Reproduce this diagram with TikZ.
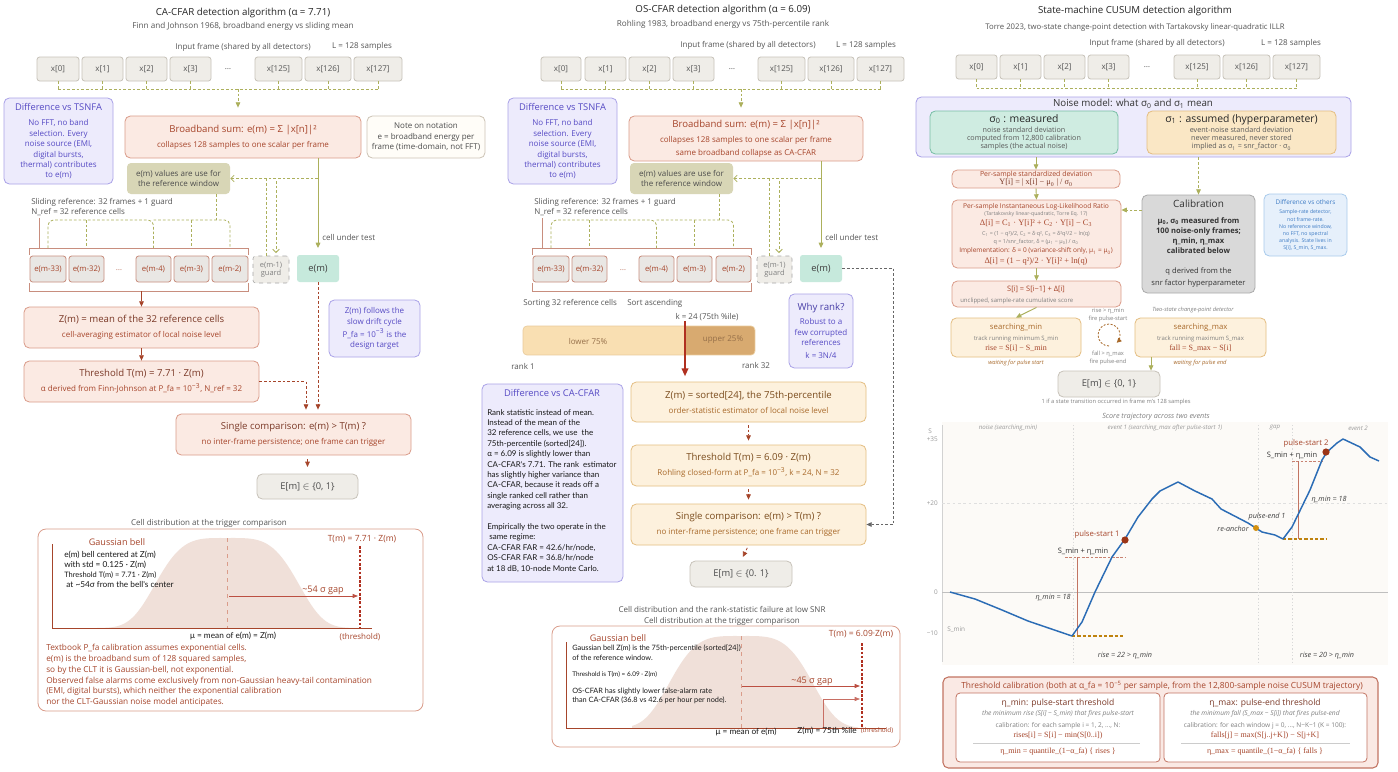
\documentclass[tikz,border=0pt]{standalone}
\usepackage{fontspec}
\setmainfont{Open Sans}
\newfontfamily\lato{Lato}
\newfontfamily\serf{Liberation Serif}
\usepackage{tikz}
\usetikzlibrary{arrows.meta}
\usepackage{xcolor}

\definecolor{xfill}{RGB}{239,237,232}
\definecolor{xline}{RGB}{200,195,186}
\definecolor{inkgray}{RGB}{85,85,85}
\definecolor{olv}{RGB}{172,176,92}
\definecolor{lavfill}{RGB}{237,235,252}
\definecolor{lavline}{RGB}{170,162,232}
\definecolor{lavtext}{RGB}{86,74,196}
\definecolor{redfill}{RGB}{251,234,227}
\definecolor{redline}{RGB}{218,156,138}
\definecolor{redtext}{RGB}{166,69,43}
\definecolor{reddark}{RGB}{122,56,38}
\definecolor{notefill}{RGB}{255,253,248}
\definecolor{noteline}{RGB}{205,196,182}
\definecolor{olvfill}{RGB}{216,214,182}
\definecolor{mint}{RGB}{198,233,220}
\definecolor{mintline}{RGB}{120,190,165}
\definecolor{cellfill}{RGB}{233,231,228}
\definecolor{cellline}{RGB}{200,142,126}
\definecolor{pchfill}{RGB}{253,241,221}
\definecolor{pchline}{RGB}{228,190,130}
\definecolor{pchtext}{RGB}{122,75,28}
\definecolor{pchsub}{RGB}{168,105,42}
\definecolor{barlo}{RGB}{249,223,178}
\definecolor{barhi}{RGB}{216,170,112}
\definecolor{bellfill}{RGB}{240,224,217}
\definecolor{calfill}{RGB}{217,217,217}
\definecolor{calline}{RGB}{170,170,170}
\definecolor{bluefill}{RGB}{230,240,251}
\definecolor{blueline}{RGB}{169,203,236}
\definecolor{bluetext}{RGB}{61,123,196}
\definecolor{curve}{RGB}{43,108,181}
\definecolor{dotred}{RGB}{155,53,23}
\definecolor{dotorg}{RGB}{212,144,15}
\definecolor{plotbg}{RGB}{252,250,247}
\definecolor{arrred}{RGB}{176,48,32}
\definecolor{thrfill}{RGB}{250,233,228}
\definecolor{thrline}{RGB}{194,116,98}

\newcommand{\fz}[2]{\fontsize{#1}{#2}\selectfont}
\newcommand{\bx}[7]{\node[#1,minimum width={(#5-#3)*0.75pt},minimum height={(#6-#4)*0.75pt}] (#2) at ({(#3+#5)/2},{(#4+#6)/2}) {#7};}

\begin{document}
\begin{tikzpicture}[x=0.75pt,y=0.75pt,yscale=-1,
  lbl/.style={inner sep=0pt,text=inkgray,font=\fz{6}{7.8}},
  xcell/.style={draw=xline,line width=0.6pt,fill=xfill,rounded corners=2pt,inner sep=0pt,text=inkgray,font=\fz{6}{7.8}},
  refcell/.style={draw=cellline,line width=0.6pt,fill=cellfill,rounded corners=2pt,inner sep=0pt,text=redtext,font=\fz{5.8}{7}},
  guardbox/.style={draw=gray!70,dashed,fill=xfill,rounded corners=2pt,inner sep=0pt,text=gray,align=center,font=\fz{5.6}{6.4}},
  mintbox/.style={fill=mint,rounded corners=2pt,inner sep=0pt,text=black!75,font=\fz{7}{8}},
  lavbox/.style={draw=lavline,line width=0.6pt,fill=lavfill,rounded corners=4pt,inner sep=0pt,text=lavtext,align=center,font=\fz{6}{7.8}},
  redbox/.style={draw=redline,line width=0.6pt,fill=redfill,rounded corners=4pt,inner sep=0pt,text=redtext,align=center,font=\fz{6}{8}},
  pchbox/.style={draw=pchline,line width=0.6pt,fill=pchfill,rounded corners=4pt,inner sep=0pt,text=pchsub,align=center,font=\fz{6}{8}},
  notebox/.style={draw=noteline,line width=0.6pt,fill=notefill,rounded corners=4pt,inner sep=0pt,text=black!70,align=center,font=\fz{6}{7.8}},
  olvbox/.style={fill=olvfill,rounded corners=3pt,inner sep=0pt,text=black!70,align=center,font=\fz{6}{8}},
  endbox/.style={draw=xline,line width=0.6pt,fill=xfill,rounded corners=4pt,inner sep=0pt,text=black!70,font=\fz{7}{8}},
  olvdash/.style={draw=olv,line width=0.6pt,dash pattern=on 2pt off 1.5pt},
  olvline/.style={draw=olv,line width=0.7pt},
  tri/.style={-{Triangle[length=4pt,width=3.5pt]}},
  barb/.style={-{Straight Barb[length=2.5pt,width=5pt]}},
  redarr/.style={draw=redtext,line width=0.6pt,-{Triangle[length=4pt,width=3.5pt]}},
  reddash/.style={redarr,dash pattern=on 2pt off 1.5pt},
  panel/.style={draw=redline,line width=0.6pt,fill=white,rounded corners=6pt},
]
\fill[white] (0,0) rectangle (1398,771);
\useasboundingbox (0,0) rectangle (1398,771);
\coordinate (refbrk) at (0,220);
\coordinate (reftop) at (0,248);

%%%%%%%%%%%%%%%%%%%%%%%%%%%%%%%%%%%%%%%%%% CA-CFAR column
% Text Node
\node[lbl,font=\fz{7.3}{9},text=black!85] (catitle) at (243,13) {CA-CFAR detection algorithm (α = 7.71)};
\node[lbl,font=\fz{6.1}{8}] (casub) at (243,26) {Finn and Johnson 1968, broadband energy vs sliding mean};
\node[lbl] (cain) at (243,47) {Input frame (shared by all detectors)};
\node[lbl] (calen) at (362,46) {L = 128 samples};

%Input samples
\bx{xcell}{cax0}{37}{57}{79}{81}{x[0]}
\bx{xcell}{cax1}{82}{57}{123}{81}{x[1]}
\bx{xcell}{cax2}{126}{57}{167}{81}{x[2]}
\bx{xcell}{cax3}{170}{57}{211}{81}{x[3]}
\node[lbl] (caxdots) at (228,69) {…};
\bx{xcell}{cax125}{255}{57}{302}{81}{x[125]}
\bx{xcell}{cax126}{305}{57}{351}{81}{x[126]}
\bx{xcell}{cax127}{354}{57}{402}{81}{x[127]}

%Boxes
\bx{lavbox}{catsn}{4}{98}{113}{184}{\fz{7}{9}Difference vs TSNFA\\[4pt]No FFT, no band\\selection. Every\\noise source (EMI,\\digital bursts,\\thermal) contributes\\to e(m)}
\bx{redbox}{cabb}{125}{116}{361}{158}{\fz{7.2}{9}Broadband sum: e(m) = Σ |x[n]|²\\[3.2pt]collapses 128 samples to one scalar per frame}
\bx{notebox}{canote}{367}{116}{485}{158}{Note on notation\\e = broadband energy per\\frame (time-domain, not FFT)}
\bx{olvbox}{caval}{127}{163}{230}{194}{e(m) values are use for\\the reference window}
\node[lbl,anchor=west] (caslide) at (31,202) {Sliding reference: 32 frames + 1 guard};
\node[lbl,anchor=west] (canref) at (31,212) {N\_ref = 32 reference cells};
\node[lbl,anchor=west] (cacut) at (322,237) {cell under test};

\bx{refcell}{cam33}{30}{256}{66}{282}{e(m-33)}
\bx{refcell}{cam32}{69}{256}{104}{282}{e(m-32)}
\node[lbl,text=redtext!70] (camdots) at (119,270) {…};
\bx{refcell}{cam4}{136}{256}{171}{282}{e(m-4)}
\bx{refcell}{cam3}{174}{256}{209}{282}{e(m-3)}
\bx{refcell}{cam2}{212}{256}{248}{282}{e(m-2)}
\bx{guardbox}{caguard}{253}{256}{289}{283}{e(m-1)\\guard}
\bx{mintbox}{caem}{297}{255}{339}{282}{e(m)}

\bx{redbox}{caz}{24}{307}{259}{348}{\fz{7.2}{9}\color{reddark}Z(m) = mean of the 32 reference cells\\[3.2pt]cell-averaging estimator of local noise level}
\bx{redbox}{cathr}{24}{361}{259}{402}{\fz{7.2}{9}\color{reddark}Threshold T(m) = 7.71 · Z(m)\\[3.2pt]α derived from Finn-Johnson at P\_fa = 10\textsuperscript{−3}, N\_ref = 32}
\bx{lavbox}{cadrift}{329}{300}{420}{357}{Z(m) follows the\\slow drift cycle\\[2pt]P\_fa = 10\textsuperscript{−3} is the\\design target}
\bx{redbox}{casgl}{176}{414}{411}{455}{\fz{7.2}{9}\color{reddark}Single comparison: e(m) > T(m) ?\\[3.2pt]no inter-frame persistence; one frame can trigger}
\bx{endbox}{caE}{257}{474}{358}{499}{E[m] $\in$ \{0, 1\}}

%Connectors
\coordinate (cabus) at (238,89);
\foreach \c in {cax0,cax1,cax2,cax3,cax125,cax126,cax127} \draw[olvdash] (\c.south) -- (\c.south |- cabus);
\draw[olvdash] (cax0.south |- cabus) -- (cax127.south |- cabus);
\draw[olvdash,tri,shorten >=6pt] (cabus) -- (cabus |- cabb.north);
\draw[olvline,tri,shorten >=5pt] (caem.north |- cabb.south) -- (caem.north);
\draw[olvdash,barb] (caem.north |- caval.east) -- (caval.east);
\coordinate (cagl) at (266,0);
\coordinate (cagr) at (276,0);
\draw[olvdash] (cagl |- caval.east) -- (cagl |- caguard.north);
\draw[olvdash,barb,shorten >=2pt] (cagr |- 0,181) -- (cagr |- caguard.north);
\coordinate (cavx) at (216,0);
\draw[olvdash] (cavx |- caval.south) -- (cavx |- refbrk);
\draw[olvdash,rounded corners=4pt] (cam33.north |- reftop) |- (cam4.north |- refbrk) -- (cam4.north |- reftop);
\draw[olvdash,rounded corners=4pt] (cam4.north |- refbrk) -| (cam2.north |- reftop);
\foreach \c in {cam32,cam3} \draw[olvdash] (\c.north |- refbrk) -- (\c.north |- reftop);
%Reference bracket
\draw[cellline,line width=0.6pt] (29,255) |- (248,248) -- (248,255);
\draw[cellline,line width=0.6pt] (29,283) |- (248,291) -- (248,283);
\draw[cellline,line width=0.6pt] (39,218) -- (39,248);
\draw[redarr] (caz.north |- 0,291) -- (caz.north);
\draw[redarr] (caz.south) -- (cathr.north);
\coordinate (cacmp) at (306,0);
\draw[reddash,shorten >=3pt] (cathr.east) -| (cacmp |- casgl.north);
\draw[reddash,shorten >=3pt] (caem.south) -- (caem.south |- casgl.north);
\draw[redarr,shorten <=3pt,shorten >=5pt] (casgl.south -| caE.north) -- (caE.north);

%Bottom panel: cell distribution
\node[lbl] (cadisttitle) at (209,523) {Cell distribution at the trigger comparison};
\draw[panel] (38,529) rectangle (423,711);
\fill[bellfill] (97,628) -- plot[domain=97:358,samples=90] (\x,{628-90*exp(0-((((\x-227)/78)^2)^2))}) -- (358,628) -- cycle;
\draw[redline,dashed] (227,538) -- (227,628);
\draw[redtext,line width=0.6pt] (52,544) -- (52,628) -- (372,628);
\draw[arrred,line width=1pt,dash pattern=on 2pt off 1.2pt] (360,546) -- (360,628);
\draw[arrred!85,line width=0.6pt,-{Triangle[length=4pt,width=3pt]}] (229,596) -- (358,596);
\node[lbl,text=redtext,font=\fz{6.8}{8}] (cagap) at (323,590) {\textasciitilde54 σ gap};
\node[lbl,text=redtext,font=\fz{6.4}{8}] (cathrlbl) at (362,539) {T(m) = 7.71 · Z(m)};
\node[lbl,text=redtext,font=\fz{6.8}{8}] (cabell) at (117,542) {Gaussian bell};
\node[lbl,anchor=north west,align=left,text=black!90,font=\lato\fz{6.2}{7.5}] (cabellnote) at (64,551) {e(m) bell centered at Z(m)\\with std = 0.125 · Z(m)\\\fz{5.6}{7}Threshold T(m) = 7.71 · Z(m)\\\ at \textasciitilde54σ from the bell's center};
\node[lbl,text=black!90,font=\lato\fz{6.2}{7.5}] (camu) at (233,636) {μ = mean of e(m) = Z(m)};
\node[lbl,text=redtext,font=\fz{6}{7.5}] (cathrs) at (360,637) {(threshold)};
\node[lbl,anchor=north west,align=left,text=redtext,font=\fz{6.2}{8.1}] (catextbook) at (46,644) {Textbook P\_fa calibration assumes exponential cells.\\e(m) is the broadband sum of 128 squared samples,\\so by the CLT it is Gaussian-bell, not exponential.\\Observed false alarms come exclusively from non-Gaussian heavy-tail contamination\\(EMI, digital bursts), which neither the exponential calibration\\nor the CLT-Gaussian noise model anticipates.};

%%%%%%%%%%%%%%%%%%%%%%%%%%%%%%%%%%%%%%%%%% OS-CFAR column
\node[lbl,font=\fz{7.3}{9},text=black!85] (ostitle) at (723,10) {OS-CFAR detection algorithm (α = 6.09)};
\node[lbl,font=\fz{6.1}{8}] (ossub) at (723,24) {Rohling 1983, broadband energy vs 75th-percentile rank};
\node[lbl] (osin) at (748,45) {Input frame (shared by all detectors)};
\node[lbl] (oslen) at (866,45) {L = 128 samples};

\bx{xcell}{osx0}{541}{57}{581}{81}{x[0]}
\bx{xcell}{osx1}{585}{57}{626}{81}{x[1]}
\bx{xcell}{osx2}{629}{57}{670}{81}{x[2]}
\bx{xcell}{osx3}{673}{57}{714}{81}{x[3]}
\node[lbl] (osxdots) at (732,69) {…};
\bx{xcell}{osx125}{758}{57}{805}{81}{x[125]}
\bx{xcell}{osx126}{808}{57}{854}{81}{x[126]}
\bx{xcell}{osx127}{857}{57}{904}{81}{x[127]}

\bx{lavbox}{ostsn}{508}{98}{617}{184}{\fz{7}{9}Difference vs TSNFA\\[4pt]No FFT, no band\\selection. Every\\noise source (EMI,\\digital bursts,\\thermal) contributes\\to e(m)}
\bx{redbox}{osbb}{629}{116}{863}{161}{\fz{7.2}{9}Broadband sum: e(m) = Σ |x[n]|²\\[3.2pt]collapses 128 samples to one scalar per frame\\[1.7pt]same broadband collapse as CA-CFAR}
\bx{olvbox}{osval}{630}{163}{733}{194}{e(m) values are use for\\the reference window}
\node[lbl,anchor=west] (osslide) at (534,202) {Sliding reference: 32 frames + 1 guard};
\node[lbl,anchor=west] (osnref) at (534,212) {N\_ref = 32 reference cells};
\node[lbl,anchor=west] (oscut) at (825,237) {cell under test};

\bx{refcell}{osm33}{533}{256}{569}{282}{e(m-33)}
\bx{refcell}{osm32}{572}{256}{607}{282}{e(m-32)}
\node[lbl,text=redtext!70] (osmdots) at (623,270) {…};
\bx{refcell}{osm4}{639}{256}{674}{282}{e(m-4)}
\bx{refcell}{osm3}{677}{256}{712}{282}{e(m-3)}
\bx{refcell}{osm2}{716}{256}{751}{282}{e(m-2)}
\bx{guardbox}{osguard}{757}{256}{792}{283}{e(m-1)\\guard}
\bx{mintbox}{osem}{800}{255}{842}{282}{e(m)}

\node[lbl,anchor=west] (ossort) at (523,303) {Sorting 32 reference cells};
\node[lbl,anchor=west] (osasc) at (627,303) {Sort ascending};
\node[lbl] (osk) at (707,317) {k = 24 (75th \%ile)};
%Rank bar
\begin{scope}
\clip[rounded corners=3pt] (523,326) rectangle (755,355);
\fill[barlo] (523,326) rectangle (684,355);
\fill[barhi] (684,326) rectangle (755,355);
\end{scope}
\draw[pchline!80,line width=0.5pt,rounded corners=3pt] (523,326) rectangle (755,355);
\node[lbl,text=pchtext!80] (oslow) at (588,341) {lower 75\%};
\node[lbl,text=pchtext!80] (osup) at (723,340) {upper 25\%};
\node[lbl] (osr1) at (523,366) {rank 1};
\node[lbl] (osr32) at (756,365) {rank 32};

\bx{lavbox}{oswhy}{789}{294}{853}{368}{\fz{7.3}{9}\color{lavtext!85!black}Why rank?\\[3pt]Robust to a\\few corrupted\\references\\[2pt]k = 3N/4}
\bx{lavbox}{osdiff}{482}{384}{623}{582}{}
\node[lbl,text=lavtext,font=\fz{7}{9}] (osdifft) at (552,393) {Difference vs CA-CFAR};
\node[lbl,anchor=north west,align=left,text=black!90,font=\lato\fz{6}{7.8}] (osdiffb) at (487,409) {Rank statistic instead of mean.\\Instead of the mean of the\\32 reference cells, we use~ the\\75th-percentile (sorted[24]).\\α = 6.09 is slightly lower than\\CA-CFAR's 7.71. The rank~ estimator\\has slightly higher variance than\\CA-CFAR, because it reads off a\\single ranked cell rather than\\averaging across all 32.\\[7.8pt]Empirically the two operate in the\\\ same regime:\\CA-CFAR FAR = 42.6/hr/node,\\OS-CFAR FAR = 36.8/hr/node\\at 18 dB, 10-node Monte Carlo.};

\bx{pchbox}{osz}{631}{382}{866}{422}{\fz{7.2}{9}\color{pchtext}Z(m) = sorted[24], the 75th-percentile\\[3.2pt]order-statistic estimator of local noise level}
\bx{pchbox}{osthr}{631}{445}{866}{486}{\fz{7.2}{9}\color{pchtext}Threshold T(m) = 6.09 · Z(m)\\[3.2pt]Rohling closed-form at P\_fa = 10\textsuperscript{−3}, k = 24, N = 32}
\bx{pchbox}{ossgl}{631}{504}{866}{545}{\fz{7.2}{9}\color{pchtext}Single comparison: e(m) > T(m) ?\\[3.2pt]no inter-frame persistence; one frame can trigger}
\bx{endbox}{osE}{690}{561}{792}{587}{E[m] $\in$ \{0. 1\}}

%Connectors
\coordinate (osbus) at (741,89);
\foreach \c in {osx0,osx1,osx2,osx3,osx125,osx126,osx127} \draw[olvdash] (\c.south) -- (\c.south |- osbus);
\draw[olvdash] (osx0.south |- osbus) -- (osx127.south |- osbus);
\draw[olvdash,tri,shorten >=6pt] (osbus) -- (osbus |- osbb.north);
\draw[olvline,tri,shorten >=5pt] (osem.north |- osbb.south) -- (osem.north);
\draw[olvdash,barb] (osem.north |- osval.east) -- (osval.east);
\coordinate (osgl) at (769,0);
\coordinate (osgr) at (779,0);
\draw[olvdash] (osgl |- osval.east) -- (osgl |- osguard.north);
\draw[olvdash,barb,shorten >=2pt] (osgr |- 0,181) -- (osgr |- osguard.north);
\coordinate (osvx) at (719,0);
\draw[olvdash] (osvx |- osval.south) -- (osvx |- refbrk);
\draw[olvdash,rounded corners=4pt] (osm33.north |- reftop) |- (osm4.north |- refbrk) -- (osm4.north |- reftop);
\draw[olvdash,rounded corners=4pt] (osm4.north |- refbrk) -| (osm2.north |- reftop);
\foreach \c in {osm32,osm3} \draw[olvdash] (\c.north |- refbrk) -- (\c.north |- reftop);
\draw[cellline,line width=0.6pt] (532,255) |- (751,248) -- (751,255);
\draw[cellline,line width=0.6pt] (532,283) |- (751,291) -- (751,283);
\draw[cellline,line width=0.6pt] (542,218) -- (542,248);
\coordinate (osrk) at (685,0);
\draw[arrred,line width=1.3pt,-{Triangle[length=6pt,width=5pt]},shorten >=4pt] (osrk |- osk.south) -- (osrk |- osz.north);
\draw[reddash,shorten <=2pt,shorten >=3pt] (osz.south) -- (osthr.north);
\draw[reddash,shorten <=2pt,shorten >=3pt] (osthr.south) -- (ossgl.north);
\draw[reddash,shorten <=2pt,shorten >=3pt] (ossgl.south) -- (osE.north);
\draw[gray!80!black,line width=0.6pt,dash pattern=on 2pt off 1.5pt,-{Triangle[length=4pt,width=3.5pt]}] (osem.east) -| ([xshift=20.25pt]ossgl.east) -- (ossgl.east);

%Bottom panel: rank statistic
\node[lbl] (osdist1) at (722,609) {Cell distribution and the rank-statistic failure at low SNR};
\node[lbl] (osdist2) at (722,621) {Cell distribution at the trigger comparison};
\draw[panel] (552,626) rectangle (900,747);
\fill[bellfill] (632,728) -- plot[domain=632:858,samples=90] (\x,{728-92*exp(0-((((\x-741)/78)^2)^2))}) -- (858,728) -- cycle;
\draw[redline,dashed] (741,636) -- (741,728);
\draw[redtext,line width=0.6pt] (566,642) -- (566,728) -- (886,728);
\draw[arrred,line width=1pt,dash pattern=on 2pt off 1.2pt] (862,643) -- (862,728);
\draw[arrred!85,line width=0.6pt,-{Triangle[length=4pt,width=3pt]}] (742,686) -- (860,686);
\draw[arrred!70,line width=0.5pt,-{Triangle[length=4pt,width=3pt]}] (823,728) -- (823,699) -- (860,699);
\node[lbl,text=redtext,font=\fz{6.8}{8}] (osgap) at (812,681) {\textasciitilde45 σ gap};
\node[lbl,text=redtext,font=\fz{6.4}{8}] (osthrlbl) at (861,634) {T(m) = 6.09·Z(m)};
\node[lbl,text=redtext,font=\fz{6.8}{8}] (osbell) at (618,638) {Gaussian bell};
\node[lbl,anchor=north west,align=left,text=black!90,font=\lato\fz{5.5}{6.8}] (osbn1) at (572,645) {Gaussian bell Z(m) is the 75th-percentile (sorted[24])\\of the reference window.};
\node[lbl,anchor=west,text=black!90,font=\lato\fz{4.8}{6}] (osbn2) at (572,674) {Threshold is T(m) = 6.09 · Z(m)};
\node[lbl,anchor=north west,align=left,text=black!90,font=\lato\fz{5.5}{6.8}] (osbn3) at (572,688) {OS-CFAR has slightly lower false-alarm rate\\than CA-CFAR (36.8 vs 42.6 per hour per node).};
\node[lbl,text=black!90,font=\lato\fz{6.2}{7.5}] (osmu) at (746,732) {μ = mean of e(m)};
\node[lbl,text=black!90,font=\lato\fz{6.2}{7.5}] (oszlbl) at (827,731) {Z(m) = 75th \%ile};
\node[lbl,text=redtext,font=\fz{4.8}{6}] (osthrs) at (877,731) {(threshold)};

%%%%%%%%%%%%%%%%%%%%%%%%%%%%%%%%%%%%%%%%%% CUSUM column
\node[lbl,font=\fz{7.3}{9},text=black!85] (rttitle) at (1135,11) {State-machine CUSUM detection algorithm};
\node[lbl,font=\fz{5.8}{7.5}] (rtsub) at (1135,27) {Torre 2023, two-state change-point detection with Tartakovsky linear-quadratic ILLR};
\node[lbl] (rtin) at (1157,43) {Input frame (shared by all detectors)};
\node[lbl] (rtlen) at (1291,43) {L = 128 samples};

\bx{xcell}{rtx0}{956}{55}{997}{79}{x[0]}
\bx{xcell}{rtx1}{1000}{55}{1041}{79}{x[1]}
\bx{xcell}{rtx2}{1044}{55}{1085}{79}{x[2]}
\bx{xcell}{rtx3}{1088}{55}{1129}{79}{x[3]}
\node[lbl] (rtxdots) at (1147,67) {…};
\bx{xcell}{rtx125}{1174}{55}{1220}{79}{x[125]}
\bx{xcell}{rtx126}{1223}{55}{1270}{79}{x[126]}
\bx{xcell}{rtx127}{1273}{55}{1320}{79}{x[127]}
\coordinate (rtbus) at (1132,88);
\foreach \c in {rtx0,rtx1,rtx2,rtx3,rtx125,rtx126,rtx127} \draw[olvdash] (\c.south) -- (\c.south |- rtbus);
\draw[olvdash] (rtx0.south |- rtbus) -- (rtx127.south |- rtbus);

%Noise model
\bx{lavbox}{rtnoise}{916}{97}{1351}{157}{}
\node[lbl,font=\fz{7.3}{9},text=black!80] (rtnoiset) at (1133,104) {Noise model: what σ\textsubscript{0} and σ\textsubscript{1} mean};
\bx{lavbox,draw=mintline,fill=mint!85,text=black!65,font=\fz{5.4}{6}}{rtsig0}{930}{111}{1118}{154}{\fz{7.8}{9}\color{black!85}σ\textsubscript{0} : measured\\[2pt]noise standard deviation\\computed from 12,800 calibration\\samples (the actual noise)}
\bx{lavbox,draw=pchline,fill=barlo!75,text=black!65,font=\fz{5.4}{6}}{rtsig1}{1147}{111}{1336}{154}{\fz{7.8}{9}\color{black!85}σ\textsubscript{1} : assumed (hyperparameter)\\[2pt]event-noise standard deviation\\never measured, never stored\\implied as σ\textsubscript{1} = snr\_factor · σ\textsubscript{0}}

\bx{redbox,font=\fz{5.2}{6.2}}{rtstd}{952}{170}{1120}{188}{Per-sample standardized deviation\\\serf\fz{6.2}{7}\color{reddark}Y[i] = | x[i] − μ\textsubscript{0} | / σ\textsubscript{0}}
\bx{redbox}{rtillr}{952}{200}{1121}{268}{}
\node[lbl,text=redtext,font=\fz{5}{6}] (rtil1) at (1036,207) {Per-sample Instantaneous Log-Likelihood Ratio};
\node[lbl,text=gray,font=\fz{3.9}{5}] (rtil2) at (1036,214) {(Tartakovsky linear-quadratic, Torre Eq. 17)};
\node[lbl,text=redtext,font=\serf\fz{6.3}{7}] (rtil3) at (1036,223) {Δ[i] = C\textsubscript{1} · Y[i]² + C\textsubscript{2} · Y[i] − C\textsubscript{3}};
\node[lbl,text=gray,font=\fz{4.1}{5}] (rtil4) at (1036,234) {C\textsubscript{1} = (1 − q²)/2, C\textsubscript{2} = δ·q², C\textsubscript{3} = δ²q²/2 − ln(q)};
\node[lbl,text=gray,font=\fz{4.1}{5}] (rtil5) at (1036,242) {q = 1/snr\_factor, δ = (μ\textsubscript{1} − μ\textsubscript{0}) / σ\textsubscript{0}};
\node[lbl,text=redtext,font=\fz{4.9}{6}] (rtil6) at (1036,251) {Implementation: δ = 0 (variance-shift only, μ\textsubscript{1} = μ\textsubscript{0})};
\node[lbl,text=redtext,font=\serf\fz{6.3}{7}] (rtil7) at (1036,261) {Δ[i] = (1 − q²)/2 · Y[i]² + ln(q)};

\bx{lavbox,draw=calline,fill=calfill,text=black!80,font=\fz{5.7}{7.6}}{rtcal}{1142}{195}{1255}{293}{\fz{7.5}{9}Calibration\\[4pt]\bfseries μ\textsubscript{0}, σ\textsubscript{0} measured from\\\bfseries 100 noise-only frames;\\\bfseries η\_min, η\_max\\\bfseries calibrated below\\[7.4pt]q derived from the\\[1.4pt]snr factor hyperparameter}
\bx{lavbox,draw=blueline,fill=bluefill,text=bluetext,font=\fz{3.9}{5.4}}{rtothers}{1264}{194}{1347}{256}{\fz{4.8}{6}Difference vs others\\[2pt]Sample-rate detector,\\not frame-rate.\\No reference window,\\no FFT, no spectral\\analysis. State lives in\\S[i], S\_min, S\_max.}

\bx{redbox}{rtS}{952}{281}{1121}{307}{}
\node[lbl,text=redtext,font=\fz{5.6}{7}] (rtS1) at (1036,289) {S[i] = S[i−1] + Δ[i]};
\node[lbl,anchor=west,text=gray,font=\fz{4.5}{6}] (rtS2) at (960,301) {unclipped, sample-rate cumulative score};

\bx{pchbox,font=\fz{4.5}{6},text=gray}{rtsmin}{951}{318}{1081}{357}{\fz{5.8}{7}\color{pchsub}searching\_min\\[2.5pt]track running minimum S\_min\\[1.5pt]\serf\fz{6}{7}\color{redtext}rise = S[i] − S\_min}
\bx{pchbox,font=\fz{4.5}{6},text=gray}{rtsmax}{1135}{318}{1266}{357}{\fz{5.8}{7}\color{pchsub}searching\_max\\[2.5pt]track running maximum S\_max\\[1.5pt]\serf\fz{6}{7}\color{redtext}fall = S\_max − S[i]}
\node[lbl,text=pchsub,font=\itshape\fz{4.3}{5}] (rtwmin) at (1016,363) {waiting for pulse start};
\node[lbl,text=pchsub,font=\itshape\fz{4.3}{5}] (rtwmax) at (1200,363) {waiting for pulse end};
\node[lbl,text=gray,font=\itshape\fz{4.3}{5}] (rttwo) at (1193,310) {Two-state change-point detector};
\node[lbl,align=center,text=gray,font=\fz{4.3}{5.4}] (rtrise) at (1108,315) {rise > η\_min\\fire pulse-start};
\node[lbl,align=center,text=gray,font=\fz{4.3}{5.4}] (rtfall) at (1108,358) {fall > η\_max\\fire pulse-end};
\draw[pchsub,line width=0.6pt,dash pattern=on 1.5pt off 1.2pt,-{Triangle[length=3.5pt,width=3.5pt]}] (1109,346) arc[start angle=90,end angle=405,radius=11];

\bx{endbox}{rtE}{1058}{371}{1160}{397}{E[m] $\in$ \{0, 1\}}
\node[lbl,text=gray,font=\fz{4.3}{5}] (rtEnote) at (1116,402) {1 if a state transition occurred in frame m's 128 samples};

%Connectors
\draw[olvline,tri] (rtstd.north |- rtnoise.south) -- (rtstd.north);
\draw[olvdash,tri] (rtcal.north |- rtnoise.south) -- (rtcal.north);
\draw[olvline,tri] (rtstd.south) -- (rtillr.north);
\draw[olvdash,tri] (rtcal.west |- 0,210) -- (rtillr.east |- 0,210);
\draw[olvline,tri] (rtillr.south) -- (rtS.north);
\draw[olvline,tri] (rtS.south) -- (rtsmin.north);
\coordinate (rtex) at (1151,0);
\draw[olvline,tri] (rtex |- rtsmax.south) -- (rtex |- rtE.north);

%Score trajectory plot
\node[lbl,text=gray,font=\itshape\fz{5.4}{7}] (rtplott) at (1156,417) {Score trajectory across two events};
\fill[plotbg] (942,422) rectangle (1388,665);
\draw[gray!35,line width=0.5pt] (942,425) -- (942,662);
\draw[gray!25,dash pattern=on 2pt off 2pt] (942,503) -- (1388,503);
\draw[gray!50,line width=0.6pt] (942,592) -- (1388,592);
\foreach \xx in {1073,1258,1292} \draw[gray!30,dash pattern=on 1pt off 1.5pt] (\xx,425) -- (\xx,662);
\node[lbl,text=gray!80,font=\fz{4.8}{6}] (rtys) at (930,431) {S};
\node[lbl,anchor=east,text=gray!80,font=\fz{4.8}{6}] (rty35) at (938,439) {+35};
\node[lbl,anchor=east,text=gray!80,font=\fz{4.8}{6}] (rty20) at (938,503) {+20};
\node[lbl,anchor=east,text=gray!80,font=\fz{4.8}{6}] (rty0) at (938,592) {0};
\node[lbl,anchor=east,text=gray!80,font=\fz{4.8}{6}] (rtym10) at (938,633) {−10};
\node[lbl,anchor=west,text=gray!80,font=\fz{4.8}{6}] (rtsminl) at (947,630) {S\_min};
\node[lbl,text=gray!80,font=\itshape\fz{4.6}{6}] (rtreg1) at (1008,428) {noise (searching\_min)};
\node[lbl,text=gray!80,font=\itshape\fz{4.6}{6}] (rtreg2) at (1165,428) {event 1 (searching\_max after pulse-start 1)};
\node[lbl,text=gray!80,font=\itshape\fz{4.6}{6}] (rtreg3) at (1275,428) {gap};
\node[lbl,text=gray!80,font=\itshape\fz{4.6}{6}] (rtreg4) at (1358,428) {event 2};

\draw[thrline!90,dash pattern=on 2pt off 1.2pt,line width=0.6pt] (1065,557) -- (1125,557);
\draw[thrline,line width=0.6pt] (1077,557) -- (1077,636);
\draw[dotorg!90!black,dash pattern=on 2.5pt off 1.5pt,line width=0.8pt] (1072,636) -- (1125,636);
\draw[thrline!90,dash pattern=on 2pt off 1.2pt,line width=0.6pt] (1292,461) -- (1323,461);
\draw[thrline,line width=0.6pt] (1298,461) -- (1298,539);
\draw[dotorg!90!black,dash pattern=on 2.5pt off 1.5pt,line width=0.8pt] (1283,539) -- (1327,539);

\draw[curve,line width=1.1pt,line join=round] plot coordinates {(950,592) (975,599) (1002,610) (1028,621) (1072,636) (1082,622) (1095,592) (1112,557) (1125,539) (1138,517) (1152,499) (1160,491) (1178,482) (1195,491) (1212,499) (1221,509) (1248,523) (1262,532) (1275,535) (1283,539) (1292,527) (1310,490) (1322,460) (1327,452) (1337,443) (1343,439) (1360,447) (1370,457) (1379,461)};
\fill[dotred] (1125,540) circle[radius=3.6];
\fill[dotorg] (1256,528) circle[radius=3];
\fill[dotred] (1326,452) circle[radius=3.6];

\node[lbl,text=redtext,font=\fz{5.8}{7}] (rtps1) at (1097,534) {pulse-start 1};
\node[lbl,text=redtext,font=\fz{5.8}{7}] (rtps2) at (1306,443) {pulse-start 2};
\node[lbl,text=black!75,font=\itshape\fz{5.4}{7}] (rtpe1) at (1267,517) {pulse-end 1};
\node[lbl,text=black!75,font=\itshape\fz{5.4}{7}] (rtrean) at (1233,529) {re-anchor};
\node[lbl,text=black!80,font=\fz{5.6}{7}] (rtsm1) at (1083,552) {S\_min + η\_min};
\node[lbl,text=black!80,font=\fz{5.6}{7}] (rtsm2) at (1292,456) {S\_min + η\_min};
\node[lbl,text=black!75,font=\itshape\fz{5.4}{7}] (rteta1) at (1053,598) {η\_min = 18};
\node[lbl,text=black!75,font=\itshape\fz{5.4}{7}] (rteta2) at (1329,500) {η\_min = 18};
\node[lbl,text=black!75,font=\itshape\fz{5.4}{7}] (rtrise1) at (1125,656) {rise = 22 > η\_min};
\node[lbl,text=black!75,font=\itshape\fz{5.4}{7}] (rtrise2) at (1327,656) {rise = 20 > η\_min};

%Threshold calibration
\draw[draw=thrline,fill=thrfill,line width=0.8pt,rounded corners=4pt] (943,677) rectangle (1378,768);
\node[lbl,text=redtext,font=\fz{6.3}{8}] (rtcalt) at (1162,686) {Threshold calibration (both at α\_fa = 10\textsuperscript{−5} per sample, from the 12,800-sample noise CUSUM trajectory)};
\bx{redbox,draw=thrline,fill=white,rounded corners=3pt}{rtetamin}{956}{693}{1160}{762}{}
\bx{redbox,draw=thrline,fill=white,rounded corners=3pt}{rtetamax}{1164}{693}{1367}{762}{}
\node[lbl,text=reddark,font=\fz{6.4}{8}] (rtmin1) at (1058,703) {η\_min: pulse-start threshold};
\node[lbl,text=gray,font=\itshape\fz{5}{6}] (rtmin2) at (1058,714) {the minimum rise (S[i] − S\_min) that fires pulse-start};
\node[lbl,text=gray,font=\fz{4.9}{6}] (rtmin3) at (1058,726) {calibration: for each sample i = 1, 2, ..., N:};
\node[lbl,text=redtext,font=\serf\fz{6}{7}] (rtmin4) at (1058,736) {rises[i] = S[i] − min(S[0..i])};
\draw[gray!40,line width=0.5pt] (973,743) -- (1140,743);
\node[lbl,text=redtext,font=\serf\fz{6}{7}] (rtmin5) at (1058,752) {η\_min = quantile\_(1−α\_fa) \{ rises \}};
\node[lbl,text=reddark,font=\fz{6.4}{8}] (rtmax1) at (1265,703) {η\_max: pulse-end threshold};
\node[lbl,text=gray,font=\itshape\fz{5}{6}] (rtmax2) at (1265,714) {the minimum fall (S\_max − S[i]) that fires pulse-end};
\node[lbl,text=gray,font=\fz{4.9}{6}] (rtmax3) at (1265,726) {calibration: for each window j = 0, ..., N−K−1 (K = 100):};
\node[lbl,text=redtext,font=\serf\fz{6}{7}] (rtmax4) at (1265,736) {falls[j] = max(S[j..j+K]) − S[j+K]};
\draw[gray!40,line width=0.5pt] (1181,743) -- (1350,743);
\node[lbl,text=redtext,font=\serf\fz{6}{7}] (rtmax5) at (1265,752) {η\_max = quantile\_(1−α\_fa) \{ falls \}};

\end{tikzpicture}
\end{document}
